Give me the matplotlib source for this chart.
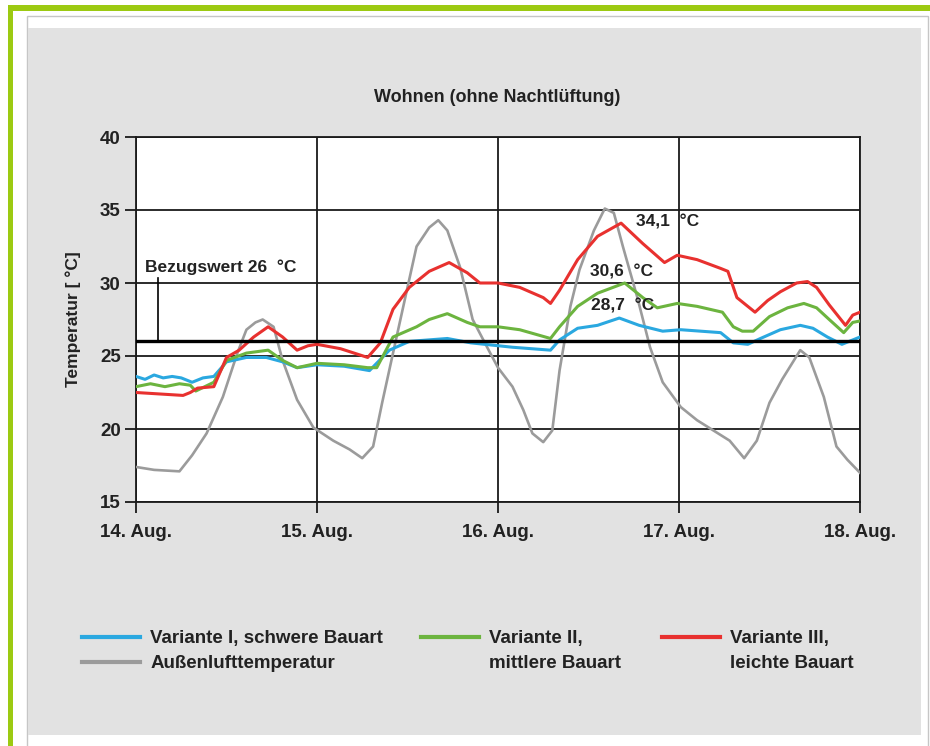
import matplotlib
matplotlib.use("Agg")
import matplotlib.pyplot as plt
from matplotlib.patches import Rectangle
from matplotlib.lines import Line2D

plt.rcParams["font.family"] = ["Liberation Sans", "DejaVu Sans"]

# ── Data (days since 14. Aug 00:00, temperature in °C) ───────────────────────
DAY_TICKS  = [0, 1, 2, 3, 4]
DAY_LABELS = ["14. Aug.", "15. Aug.", "16. Aug.", "17. Aug.", "18. Aug."]
Y_TICKS    = [15, 20, 25, 30, 35, 40]
REF_TEMP   = 26

outdoor_t = [0, 0.10, 0.24, 0.31, 0.39, 0.48, 0.56, 0.61, 0.66, 0.70, 0.76, 0.81,
             0.89, 0.98, 1.09, 1.18, 1.25, 1.31, 1.36, 1.42, 1.50, 1.55, 1.62,
             1.67, 1.72, 1.79, 1.86, 1.94, 2.0, 2.08, 2.14, 2.19, 2.25, 2.30,
             2.34, 2.40, 2.45, 2.53, 2.59, 2.64, 2.69, 2.77, 2.84, 2.91, 3.01,
             3.10, 3.19, 3.28, 3.36, 3.43, 3.50, 3.57, 3.67, 3.72, 3.80, 3.87,
             3.93, 4.0]
outdoor_v = [17.4, 17.2, 17.1, 18.2, 19.7, 22.2, 25.2, 26.8, 27.3, 27.5, 27.0, 24.7,
             22.0, 20.1, 19.2, 18.6, 18.0, 18.8, 21.8, 25.2, 29.7, 32.5, 33.8,
             34.3, 33.6, 31.1, 27.5, 25.6, 24.2, 22.9, 21.3, 19.7, 19.1, 19.9,
             24.0, 28.4, 30.9, 33.6, 35.1, 34.8, 32.5, 29.0, 25.6, 23.2, 21.5,
             20.6, 19.9, 19.2, 18.0, 19.2, 21.8, 23.4, 25.4, 24.9, 22.2, 18.8,
             17.9, 17.0]

light_t = [0, 0.13, 0.26, 0.30, 0.34, 0.43, 0.50, 0.57, 0.65, 0.73, 0.81, 0.89,
           0.95, 1.0, 1.13, 1.28, 1.35, 1.42, 1.51, 1.62, 1.73, 1.83, 1.90, 2.0,
           2.12, 2.25, 2.29, 2.34, 2.44, 2.55, 2.68, 2.80, 2.92, 2.99, 3.10,
           3.23, 3.27, 3.32, 3.38, 3.42, 3.49, 3.56, 3.65, 3.71, 3.76, 3.83,
           3.92, 3.96, 4.0]
light_v = [22.5, 22.4, 22.3, 22.5, 22.8, 22.9, 24.9, 25.4, 26.3, 27.0, 26.3, 25.4,
           25.7, 25.8, 25.5, 24.9, 25.9, 28.2, 29.7, 30.8, 31.4, 30.7, 30.0, 30.0,
           29.7, 29.0, 28.6, 29.5, 31.6, 33.2, 34.1, 32.7, 31.4, 31.9, 31.6,
           31.0, 30.8, 29.0, 28.4, 28.0, 28.8, 29.4, 30.0, 30.1, 29.7, 28.5,
           27.1, 27.8, 28.0]

medium_t = [0, 0.08, 0.16, 0.24, 0.30, 0.33, 0.43, 0.50, 0.61, 0.73, 0.81, 0.89,
            1.0, 1.15, 1.28, 1.33, 1.42, 1.55, 1.62, 1.72, 1.83, 1.90, 2.0, 2.12,
            2.29, 2.34, 2.44, 2.55, 2.70, 2.80, 2.88, 2.99, 3.10, 3.24, 3.30,
            3.35, 3.41, 3.50, 3.60, 3.69, 3.76, 3.83, 3.91, 3.96, 4.0]
medium_v = [22.9, 23.1, 22.9, 23.1, 23.0, 22.6, 23.2, 24.7, 25.2, 25.4, 24.7, 24.2,
            24.5, 24.4, 24.2, 24.2, 26.3, 27.0, 27.5, 27.9, 27.3, 27.0, 27.0, 26.8,
            26.2, 27.0, 28.4, 29.3, 30.0, 29.0, 28.3, 28.6, 28.4, 28.0, 27.0,
            26.7, 26.7, 27.7, 28.3, 28.6, 28.3, 27.5, 26.6, 27.3, 27.4]

heavy_t = [0, 0.05, 0.10, 0.15, 0.20, 0.25, 0.31, 0.37, 0.43, 0.50, 0.61, 0.72,
           0.81, 0.89, 1.0, 1.15, 1.29, 1.40, 1.51, 1.72, 1.85, 2.08, 2.29, 2.34,
           2.44, 2.55, 2.67, 2.78, 2.91, 3.01, 3.23, 3.30, 3.38, 3.45, 3.56,
           3.67, 3.74, 3.82, 3.90, 3.94, 4.0]
heavy_v = [23.6, 23.4, 23.7, 23.5, 23.6, 23.5, 23.2, 23.5, 23.6, 24.6, 24.9, 24.9,
           24.6, 24.2, 24.4, 24.3, 24.0, 25.4, 26.0, 26.2, 25.9, 25.6, 25.4, 26.1,
           26.9, 27.1, 27.6, 27.1, 26.7, 26.8, 26.6, 25.9, 25.8, 26.2, 26.8,
           27.1, 26.9, 26.3, 25.8, 26.0, 26.3]

# ── Styling ──────────────────────────────────────────────────────────────────
C_HEAVY   = "#2aa8e0"
C_MEDIUM  = "#6cb43f"
C_LIGHT   = "#e8312f"
C_OUTDOOR = "#9b9b9b"
TXT       = "#222222"

W, H = 930, 746
fig = plt.figure(figsize=(W / 100, H / 100), dpi=100, facecolor="white")

# page frame: green corner bars, panel border, grey panel (behind the axes)
def px_rect(x0, y0, x1, y1, **kw):
    fig.add_artist(Rectangle((x0 / W, 1 - y1 / H), (x1 - x0) / W, (y1 - y0) / H,
                             transform=fig.transFigure, zorder=-10, **kw))

px_rect(8, 5, 930, 11, color="#9cca12", lw=0)
px_rect(8, 5, 13, 746, color="#9cca12", lw=0)
px_rect(27, 16, 928, 760, facecolor="white", edgecolor="#c6c6c6", lw=1)
px_rect(28, 28, 921, 735, color="#e2e2e2", lw=0)

ax = fig.add_axes([136 / W, 1 - 502 / H, (860 - 136) / W, (502 - 137) / H])
ax.set_facecolor("white")

ax.plot(outdoor_t, outdoor_v, color=C_OUTDOOR, lw=1.9, zorder=3)
ax.plot(heavy_t, heavy_v, color=C_HEAVY, lw=2.2, zorder=4)
ax.plot(medium_t, medium_v, color=C_MEDIUM, lw=2.2, zorder=5)
ax.plot(light_t, light_v, color=C_LIGHT, lw=2.2, zorder=6)

# reference line 26 °C
ax.axhline(REF_TEMP, color="black", lw=2.4, zorder=7)
ax.plot([0.12, 0.12], [30.35, REF_TEMP], color="black", lw=1.2, zorder=7)
ax.text(0.05, 31.05, "Bezugswert 26  °C", fontsize=12.5, fontweight="bold",
        color=TXT, va="center", ha="left", zorder=8)

# peak annotations
ax.text(2.762, 34.18, "34,1  °C", fontsize=12.5, fontweight="bold", color=TXT,
        va="center", ha="left", zorder=8)
ax.text(2.508, 30.75, "30,6  °C", fontsize=12.5, fontweight="bold", color=TXT,
        va="center", ha="left", zorder=8)
ax.text(2.514, 28.42, "28,7  °C", fontsize=12.5, fontweight="bold", color=TXT,
        va="center", ha="left", zorder=8)

ax.set_xlim(0, 4)
ax.set_ylim(15, 40)
ax.set_xticks(DAY_TICKS)
ax.set_xticklabels(DAY_LABELS)
ax.set_yticks(Y_TICKS)
ax.grid(True, color="#1a1a1a", lw=1.3, zorder=1)
ax.set_axisbelow(True)
for sp in ax.spines.values():
    sp.set_linewidth(1.3)
    sp.set_color("#1a1a1a")
ax.tick_params(axis="both", direction="out", length=8, width=1.3, color="#1a1a1a",
               labelsize=13.5, labelcolor=TXT, pad=3)
ax.tick_params(axis="x", pad=8)
for lab in ax.get_xticklabels() + ax.get_yticklabels():
    lab.set_fontweight("bold")

ax.set_ylabel("Temperatur [ °C]", fontsize=12.5, fontweight="bold", color=TXT,
              labelpad=14)

fig.text(497 / W, 1 - 97 / H, "Wohnen (ohne Nachtlüftung)", fontsize=13,
         fontweight="bold", color=TXT, ha="center", va="center")

# legend in three columns, each two rows
def add_legend(handles, labels, x_px):
    leg = fig.legend(handles, labels, loc="upper left",
                     bbox_to_anchor=(x_px / W, 1 - 630 / H),
                     frameon=False, fontsize=13.5, handlelength=3.1,
                     handletextpad=0.55, borderpad=0, borderaxespad=0,
                     labelspacing=0.42)
    for t in leg.get_texts():
        t.set_color(TXT)
        t.set_fontweight("bold")
    for ln in leg.get_lines():
        ln.set_linewidth(3)
    return leg

h_heavy = Line2D([], [], color=C_HEAVY)
h_out   = Line2D([], [], color=C_OUTDOOR)
h_med   = Line2D([], [], color=C_MEDIUM)
h_light = Line2D([], [], color=C_LIGHT)
h_none  = Line2D([], [], color="none")

add_legend([h_heavy, h_out], ["Variante I, schwere Bauart", "Außenlufttemperatur"], 82)
add_legend([h_med, h_none], ["Variante II,", "mittlere Bauart"], 421)
add_legend([h_light, h_none], ["Variante III,", "leichte Bauart"], 662)

fig.savefig("out.png", dpi=100, facecolor="white")
